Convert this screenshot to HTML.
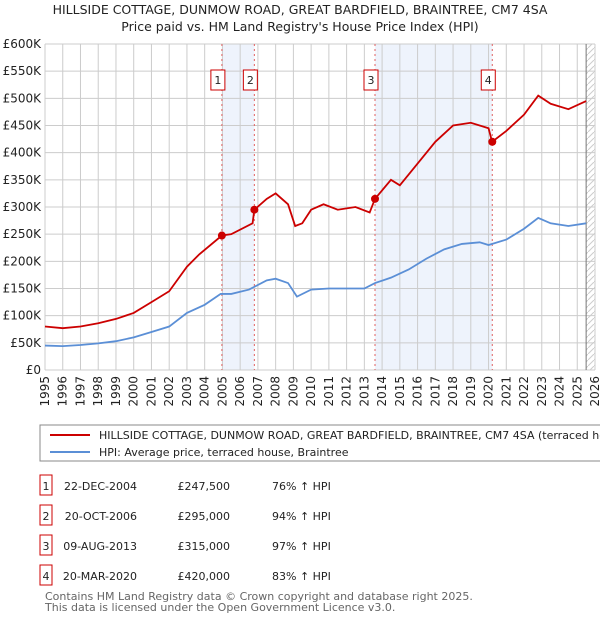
<!DOCTYPE html>
<html><head><meta charset="utf-8"><style>
body{margin:0;background:#fff;font-family:"DejaVu Sans","Liberation Sans",sans-serif;}
svg text{font-family:"DejaVu Sans","Liberation Sans",sans-serif;}
</style></head><body>
<svg id="chart" width="600" height="620" xmlns="http://www.w3.org/2000/svg">
<text x="300" y="14" text-anchor="middle" font-size="12.5" fill="#222">HILLSIDE COTTAGE, DUNMOW ROAD, GREAT BARDFIELD, BRAINTREE, CM7 4SA</text>
<text x="300" y="31" text-anchor="middle" font-size="12.5" fill="#222">Price paid vs. HM Land Registry's House Price Index (HPI)</text>
<g id="plot"></g>
<g>
<rect x="40" y="425" width="570" height="36" fill="#fff" stroke="#888"/>
<line x1="50" y1="435" x2="90" y2="435" stroke="#cc0000" stroke-width="2"/>
<text x="99" y="439" font-size="11" fill="#222">HILLSIDE COTTAGE, DUNMOW ROAD, GREAT BARDFIELD, BRAINTREE, CM7 4SA (terraced house)</text>
<line x1="50" y1="452" x2="90" y2="452" stroke="#5b8fd6" stroke-width="2"/>
<text x="99" y="456" font-size="11" fill="#222">HPI: Average price, terraced house, Braintree</text>
</g>
<g id="table" font-size="11" fill="#222"></g>
<text x="45" y="600" font-size="11" fill="#666">Contains HM Land Registry data © Crown copyright and database right 2025.</text>
<text x="45" y="611" font-size="11" fill="#666">This data is licensed under the Open Government Licence v3.0.</text>
</svg>
<script>
const yTicks=[0,50000,100000,150000,200000,250000,300000,350000,400000,450000,500000,550000,600000];
const yTickLabels=["£0","£50K","£100K","£150K","£200K","£250K","£300K","£350K","£400K","£450K","£500K","£550K","£600K"];
const xYears=[1995,1996,1997,1998,1999,2000,2001,2002,2003,2004,2005,2006,2007,2008,2009,2010,2011,2012,2013,2014,2015,2016,2017,2018,2019,2020,2021,2022,2023,2024,2025,2026];
const hpiT=[1995,1996,1997,1998,1999,2000,2001,2002,2003,2004,2004.9,2005.5,2006.5,2007.5,2008,2008.7,2009.2,2010,2011,2012,2013,2013.6,2014.5,2015.5,2016.5,2017.5,2018.5,2019.5,2020,2021,2022,2022.8,2023.5,2024.5,2025.5];
const hpiV=[45000,44000,46000,49000,53000,60000,70000,80000,105000,120000,140000,140000,148000,165000,168000,160000,135000,148000,150000,150000,150000,160000,170000,185000,205000,222000,232000,235000,230000,240000,260000,280000,270000,265000,270000];
const propT=[1995,1996,1997,1998,1999,2000,2001,2002,2003,2003.7,2004.97,2005.5,2006.7,2006.8,2007.5,2008,2008.7,2009.1,2009.5,2010,2010.7,2011.5,2012.5,2013.3,2013.6,2014.5,2015,2016,2017,2018,2019,2020.0,2020.2,2021,2022,2022.8,2023.5,2024.5,2025.5];
const propV=[80000,77000,80000,86000,94000,105000,125000,145000,190000,213000,247500,250000,270000,295000,315000,325000,305000,265000,270000,295000,305000,295000,300000,290000,315000,350000,340000,380000,420000,450000,455000,445000,420000,440000,470000,505000,490000,480000,495000];
const saleLabels=["1","2","3","4"];
const saleT=[2004.97,2006.8,2013.6,2020.21];
const saleV=[247500,295000,315000,420000];
const saleDates=["22-DEC-2004","20-OCT-2006","09-AUG-2013","20-MAR-2020"];
const salePrices=["£247,500","£295,000","£315,000","£420,000"];
const saleHpi=["76% ↑ HPI","94% ↑ HPI","97% ↑ HPI","83% ↑ HPI"];

const NS="http://www.w3.org/2000/svg";
const X0=45,X1=595,Y0=370,Y1=44;
const xs=t=>X0+(t-1995)/31*(X1-X0);
const ys=v=>Y0-v/600000*(Y0-Y1);
const plot=document.getElementById('plot');
function mk(tag,attrs,parent){const e=document.createElementNS(NS,tag);for(const k in attrs)e.setAttribute(k,attrs[k]);(parent||plot).appendChild(e);return e;}
for(let i=0;i<4;i+=2){
 const r=mk('rect',{x:xs(saleT[i]),y:Y1,width:xs(saleT[i+1])-xs(saleT[i]),height:Y0-Y1,fill:'#eef3fc'});
 
 
}
const defs=mk('defs',{});
const pat=mk('pattern',{id:'h',width:6,height:6,patternUnits:'userSpaceOnUse'},defs);
mk('path',{d:'M0,6 L6,0',stroke:'#ccc','stroke-width':1},pat);
const hr=mk('rect',{x:xs(2025.5),y:Y1,width:X1-xs(2025.5),height:Y0-Y1,fill:'url(#h)'});


yTicks.forEach((v,i)=>{
 mk('line',{x1:X0,x2:X1,y1:ys(v),y2:ys(v),stroke:'#ccc'});
 const t=mk('text',{x:X0-4,y:ys(v)+4,'text-anchor':'end','font-size':12,fill:'#222'});
 t.textContent=yTickLabels[i];
 
 
});
xYears.forEach(y=>{
 mk('line',{x1:xs(y),x2:xs(y),y1:Y1,y2:Y0,stroke:'#ccc'});
 const t=mk('text',{x:0,y:0,'text-anchor':'end','font-size':12,fill:'#222',transform:`translate(${xs(y)+4},${Y0+6}) rotate(-90)`});
 t.textContent=y;
 
 
});
mk('line',{x1:xs(2025.5),x2:xs(2025.5),y1:Y1,y2:Y0,stroke:'#777'});
saleT.forEach((t,i)=>{
 mk('line',{x1:xs(t),x2:xs(t),y1:Y1,y2:Y0,stroke:'#e06060','stroke-dasharray':'2,3'});
 const g=mk('g',{});
 
 
 mk('rect',{x:xs(t)-11,y:70,width:14,height:20,fill:'#fff',stroke:'#cc0000'},g);
 const tx=mk('text',{x:xs(t)-4,y:84,'text-anchor':'middle','font-size':11,fill:'#222'},g);
 tx.textContent=saleLabels[i];
});
function line(T,V,col,name){
 const p=mk('polyline',{points:T.map((t,i)=>xs(t)+','+ys(V[i])).join(' '),fill:'none',stroke:col,'stroke-width':1.8});
 
 
}
line(hpiT,hpiV,'#5b8fd6','hpi-line');
line(propT,propV,'#cc0000','property-price-line');
saleT.forEach((t,i)=>{
 const c=mk('circle',{cx:xs(t),cy:ys(saleV[i]),r:4,fill:'#cc0000'});
 
 
});
const tb=document.getElementById('table');
const rowY=[486,516,546,576];
saleLabels.forEach((l,i)=>{
 const g=mk('g',{},tb);
 
 
 mk('rect',{x:40,y:rowY[i]-11,width:12,height:20,fill:'#fff',stroke:'#cc0000'},g);
 const a=mk('text',{x:46,y:rowY[i]+4,'text-anchor':'middle'},g);a.textContent=l;
 const b=mk('text',{x:137,y:rowY[i]+4,'text-anchor':'end'},g);b.textContent=saleDates[i];
 const c=mk('text',{x:230,y:rowY[i]+4,'text-anchor':'end'},g);c.textContent=salePrices[i];
 const d=mk('text',{x:272,y:rowY[i]+4},g);d.textContent=saleHpi[i];
});
</script>
</body></html>
